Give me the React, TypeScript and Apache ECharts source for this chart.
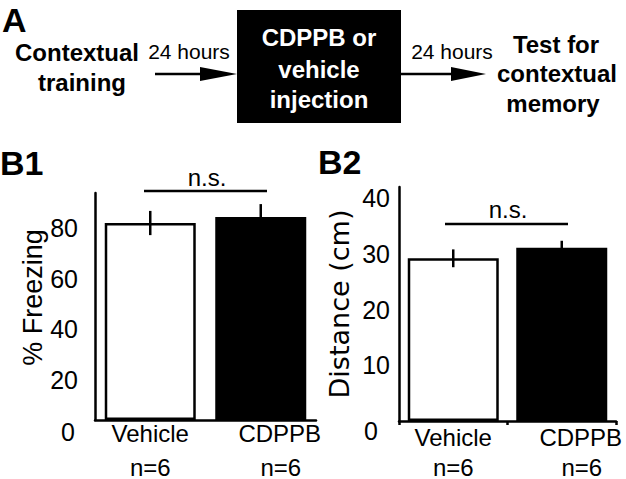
import React, { useEffect, useRef } from "react";
import * as echarts from "echarts";

const categories = ["Vehicle", "CDPPB"];
const sampleSizes = [6, 6];
const freezingMeans = [78.1, 80.5];
const freezingErrors = [4.8, 5.1];
const distanceMeans = [29.2, 31.1];
const distanceErrors = [1.6, 1.25];
const freezingAxis = { min: 0, max: 90, interval: 20 };
const distanceAxis = { min: 0, max: 42, interval: 10 };
const barColors = ["#ffffff", "#000000"];

const FONT = "'Liberation Sans', Arial, Helvetica, sans-serif";

function xLabelRich(l1: number, l2: number) {
  return {
    a: { fontSize: 24, lineHeight: l1, color: "#000", fontFamily: FONT },
    b: { fontSize: 24, lineHeight: l2, color: "#000", fontFamily: FONT },
    c: { fontSize: 24, lineHeight: l1, color: "#000", fontFamily: FONT, padding: [0, 0, 0, 38] },
    d: { fontSize: 24, lineHeight: l2, color: "#000", fontFamily: FONT, padding: [0, 0, 0, 40] },
  };
}

function xFormatter(value: string, index: number) {
  if (index === 0) return `{a|${value}}\n{b|n=${sampleSizes[index]}}`;
  return `{c|${value}}\n{d|n=${sampleSizes[index]}}`;
}

function errorSeries(xAxisIndex: number, yAxisIndex: number, means: number[], errs: number[]) {
  return {
    type: "custom",
    xAxisIndex,
    yAxisIndex,
    z: 5,
    data: means.map((m, i) => [i, m, errs[i]]),
    renderItem: (_p: any, api: any) => {
      const x = api.value(0);
      const m = api.value(1);
      const e = api.value(2);
      const top = api.coord([x, m + e]);
      const bot = api.coord([x, m - e]);
      return {
        type: "line",
        shape: { x1: top[0], y1: top[1], x2: bot[0], y2: bot[1] },
        style: { stroke: "#000", lineWidth: 2.5 },
      };
    },
  };
}

function barSeries(xAxisIndex: number, yAxisIndex: number, means: number[]) {
  return {
    type: "bar",
    xAxisIndex,
    yAxisIndex,
    barWidth: 91,
    data: means.map((m, i) => ({
      value: m,
      itemStyle: { color: barColors[i], borderColor: "#000", borderWidth: 2.5 },
    })),
  };
}

export default function App() {
  const ref = useRef<HTMLDivElement>(null);
  useEffect(() => {
    if (!ref.current) return;
    const chart = echarts.init(ref.current, undefined, { renderer: "svg" });
    const axisLine = { show: true, lineStyle: { color: "#000", width: 2.5 } };
    const bold = (text: string, x: number, y: number, size = 24, fill = "#000", align = "center") => ({
      type: "text",
      x,
      y,
      style: { text, fill, font: `bold ${size}px ${FONT}`, textAlign: align, textVerticalAlign: "middle" },
    });
    const regular = (text: string, x: number, y: number, size = 21) => ({
      type: "text",
      x,
      y,
      style: { text, fill: "#000", font: `${size}px ${FONT}`, textAlign: "center", textVerticalAlign: "middle" },
    });
    chart.setOption({
      animation: false,
      backgroundColor: "#fff",
      grid: [
        { left: 95, top: 193, width: 221, height: 227 },
        { left: 399, top: 187, width: 217, height: 236 },
      ],
      xAxis: [
        {
          gridIndex: 0,
          type: "category",
          data: categories,
          axisLine,
          axisTick: { show: false },
          axisLabel: { margin: 0, formatter: xFormatter, rich: xLabelRich(26, 42) },
        },
        {
          gridIndex: 1,
          type: "category",
          data: categories,
          axisLine,
          axisTick: { show: true, length: 4, lineStyle: { color: "#000", width: 2.5 } },
          axisLabel: { margin: 3, formatter: xFormatter, rich: xLabelRich(26, 34) },
        },
      ],
      yAxis: [
        {
          gridIndex: 0,
          type: "value",
          ...freezingAxis,
          axisLine,
          axisTick: { show: false },
          splitLine: { show: false },
          axisLabel: {
            margin: 17,
            formatter: (v: number) =>
              v === 0 ? "{z|0}" : v % freezingAxis.interval === 0 ? `{p|${v}}` : "",
            rich: {
              p: { fontSize: 25, fontFamily: FONT, color: "#000", padding: [20, 0, 0, 0] },
              z: { fontSize: 25, fontFamily: FONT, color: "#000", padding: [24, 3, 0, 0] },
            },
          },
          name: "% Freezing",
          nameLocation: "middle",
          nameGap: 45,
          nameTextStyle: { color: "#000", fontSize: 27, fontFamily: FONT, padding: [0, 0, 0, 18] },
        },
        {
          gridIndex: 1,
          type: "value",
          ...distanceAxis,
          axisLine,
          axisTick: { show: false },
          splitLine: { show: false },
          axisLabel: {
            color: "#000",
            fontSize: 25,
            fontFamily: FONT,
            margin: 9,
            formatter: (v: number) =>
              v === 0 ? "{z|0}" : v % distanceAxis.interval === 0 ? String(v) : "",
            rich: { z: { fontSize: 25, fontFamily: FONT, color: "#000", padding: [20, 12, 0, 0] } },
          },
          name: "Distance (cm)",
          nameLocation: "middle",
          nameGap: 46,
          nameTextStyle: { color: "#000", fontSize: 27, fontFamily: "'DejaVu Sans', sans-serif" },
        },
      ],
      series: [
        barSeries(0, 0, freezingMeans),
        errorSeries(0, 0, freezingMeans, freezingErrors),
        barSeries(1, 1, distanceMeans),
        errorSeries(1, 1, distanceMeans, distanceErrors),
      ],
      graphic: [
        bold("A", 2, 20, 34, "#000", "left"),
        bold("Contextual", 77, 52),
        bold("training", 82, 82),
        regular("24 hours", 189, 51),
        { type: "line", shape: { x1: 155, y1: 74, x2: 205, y2: 74 }, style: { stroke: "#000", lineWidth: 2.5 } },
        { type: "polygon", shape: { points: [[200, 67], [237, 74], [200, 81]] }, style: { fill: "#000" } },
        { type: "rect", shape: { x: 237, y: 10, width: 164, height: 113 }, style: { fill: "#000" } },
        bold("CDPPB or", 319, 37, 24, "#fff"),
        bold("vehicle", 319, 69, 24, "#fff"),
        bold("injection", 319, 99, 24, "#fff"),
        regular("24 hours", 452, 51),
        { type: "line", shape: { x1: 401, y1: 74, x2: 455, y2: 74 }, style: { stroke: "#000", lineWidth: 2.5 } },
        { type: "polygon", shape: { points: [[451, 67], [486, 74], [451, 81]] }, style: { fill: "#000" } },
        bold("Test for", 556, 44),
        bold("contextual", 557, 73),
        bold("memory", 553, 103),
        bold("B1", 0, 163, 34, "#000", "left"),
        bold("B2", 318, 162, 34, "#000", "left"),
        { type: "line", shape: { x1: 144, y1: 191, x2: 267, y2: 191 }, style: { stroke: "#000", lineWidth: 2.5 } },
        regular("n.s.", 207, 177, 24),
        { type: "line", shape: { x1: 445, y1: 224, x2: 568, y2: 224 }, style: { stroke: "#000", lineWidth: 2.5 } },
        regular("n.s.", 508, 209, 24),
      ],
    });
    return () => chart.dispose();
  }, []);
  return (
    <div
      ref={ref}
      style={{ position: "fixed", left: 0, top: 0, width: 626, height: 479, background: "#fff" }}
    />
  );
}
